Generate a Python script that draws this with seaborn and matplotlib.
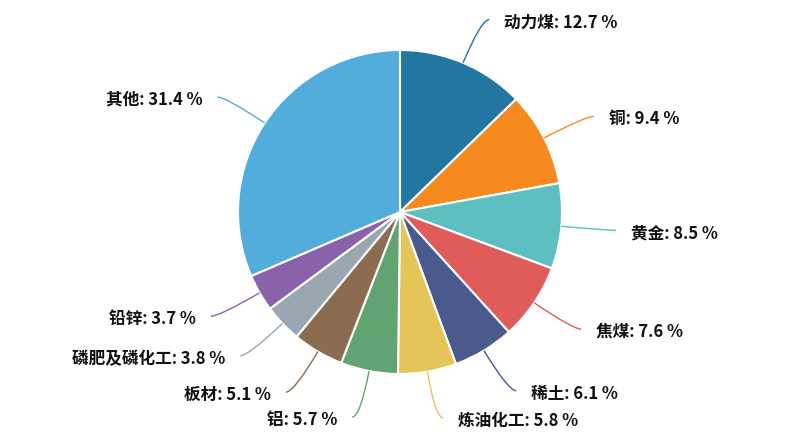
import numpy as np
import matplotlib
matplotlib.use("Agg")
import matplotlib.pyplot as plt
import seaborn as sns
from matplotlib.path import Path
from matplotlib.patches import PathPatch

names = ["动力煤", "铜", "黄金", "焦煤", "稀土", "炼油化工", "铝", "板材",
         "磷肥及磷化工", "铅锌", "其他"]
shares = [12.7, 9.4, 8.5, 7.6, 6.1, 5.8, 5.7, 5.1, 3.8, 3.7, 31.4]
colors = ["#23769f", "#f68a1e", "#5ebfc0", "#e05c5b", "#4a5a8c", "#e3c55a",
          "#62a372", "#8c6c51", "#9aa6b0", "#8a62ac", "#52acdc"]

sns.set_theme(style="white")
plt.rcParams["font.family"] = ["Noto Sans CJK SC", "DejaVu Sans"]

fig = plt.figure(figsize=(7.95, 4.47), dpi=100)
ax = fig.add_axes([0, 0, 1, 1])

# pixel coords, y up
cx, cy, r = 400, 447 - 212, 162
wedges, _ = ax.pie(shares, colors=sns.color_palette(colors), startangle=90,
                   counterclock=False, radius=r, center=(cx, cy),
                   wedgeprops=dict(edgecolor="white", linewidth=1.5))
ax.set_aspect("equal")
ax.set_xlim(0, 795)
ax.set_ylim(0, 447)
ax.axis("off")

len1, len2 = 47, 8
for w, name, v, c in zip(wedges, names, shares, colors):
    mid = np.deg2rad((w.theta1 + w.theta2) / 2)
    dx, dy = np.cos(mid), np.sin(mid)
    p0 = (cx + r * dx, cy + r * dy)
    p1 = (cx + (r + len1) * dx, cy + (r + len1) * dy)
    side = 1 if dx >= 0 else -1
    p2 = (p1[0] + side * len2, p1[1])
    path = Path([p0, p1, p2], [Path.MOVETO, Path.CURVE3, Path.CURVE3])
    ax.add_patch(PathPatch(path, fill=False, edgecolor=c, linewidth=1))
    ax.text(p2[0] + side * 15, p2[1] - 3, f"{name}: {v} %", fontsize=12,
            fontweight="bold", color="#111111",
            ha="left" if side > 0 else "right", va="center")

fig.savefig("out.png", dpi=100)
